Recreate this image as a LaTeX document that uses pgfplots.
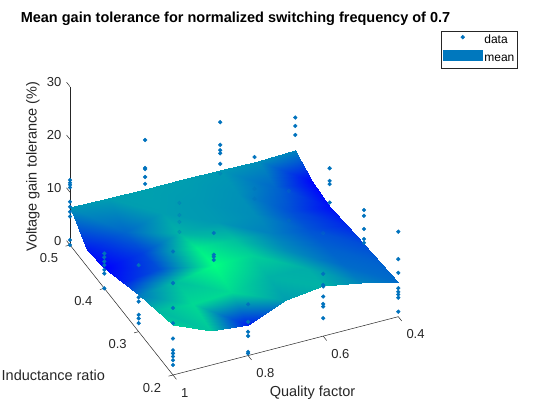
\documentclass[border=0pt]{standalone}
\usepackage{fontspec}
\setmainfont{Liberation Sans}
\usepackage{pgfplots}
\pgfplotsset{compat=1.18}
\definecolor{dotc}{RGB}{0,114,189}
\definecolor{meanc}{RGB}{0,120,190}
\definecolor{axc}{RGB}{38,38,38}

\pgfplotstableread{
Q L Z C
1.0 0.20 9.4 0.80
1.0 0.25 8.2 0.72
1.0 0.30 6.9 0.48
1.0 0.35 5.3 0.12
1.0 0.40 3.8 0.00
1.0 0.45 3.1 0.10
1.0 0.50 7.25 0.58
0.9 0.20 6.5 0.78
0.9 0.25 7.5 0.85
0.9 0.30 7.5 0.75
0.9 0.35 6.0 0.32
0.9 0.40 4.8 0.25
0.9 0.45 4.8 0.40
0.9 0.50 7.1 0.62
0.8 0.20 5.8 0.12
0.8 0.25 8.0 0.85
0.8 0.30 9.0 1.00
0.8 0.35 8.0 0.92
0.8 0.40 6.8 0.70
0.8 0.45 6.5 0.62
0.8 0.50 7.0 0.63
0.7 0.20 8.7 0.62
0.7 0.25 9.0 0.70
0.7 0.30 9.0 0.82
0.7 0.35 8.0 0.75
0.7 0.40 7.0 0.60
0.7 0.45 6.8 0.60
0.7 0.50 6.9 0.62
0.6 0.20 9.5 0.70
0.6 0.25 8.8 0.68
0.6 0.30 8.0 0.55
0.6 0.35 7.2 0.50
0.6 0.40 6.6 0.55
0.6 0.45 6.6 0.57
0.6 0.50 6.8 0.60
0.5 0.20 8.2 0.52
0.5 0.25 7.5 0.42
0.5 0.30 6.8 0.38
0.5 0.35 6.0 0.33
0.5 0.40 5.5 0.30
0.5 0.45 5.8 0.40
0.5 0.50 6.8 0.56
0.4 0.20 6.5 0.42
0.4 0.25 6.0 0.38
0.4 0.30 5.5 0.30
0.4 0.35 5.0 0.16
0.4 0.40 4.4 0.06
0.4 0.45 5.2 0.02
0.4 0.50 6.9 0.52
}\meansurf

\pgfplotstableread{
Q L Z
1.0 0.5 6.3
1.0 0.5 5.4
1.0 0.5 0.95
1.0 0.5 0.0
1.0 0.4 3.5
1.0 0.4 2.8
1.0 0.4 0.0
1.0 0.3 6.5
1.0 0.3 5.7
1.0 0.3 3.2
1.0 0.3 2.5
1.0 0.3 1.6
1.0 0.2 6.9
1.0 0.2 4.7
1.0 0.2 4.1
1.0 0.2 3.5
1.0 0.2 2.8
1.0 0.2 1.9
0.8 0.2 4.5
0.8 0.2 3.7
0.8 0.2 0.7
0.8 0.2 0.4
0.6 0.2 9.4
0.6 0.2 7.5
0.6 0.2 6.1
0.6 0.2 5.6
0.6 0.2 3.4
0.4 0.2 5.4
0.4 0.2 4.7
0.4 0.2 4.2
0.4 0.2 3.6
0.4 0.2 0.95
}\dataunder

\pgfplotstableread{
Q L Z
1.0 0.5 12.3
1.0 0.5 11.8
1.0 0.5 11.4
1.0 0.5 10.9
1.0 0.5 8.2
1.0 0.5 7.25
1.0 0.4 6.6
1.0 0.4 5.9
1.0 0.4 5.1
1.0 0.4 4.4
1.0 0.3 12.6
1.0 0.2 23.4
1.0 0.2 17.4
1.0 0.2 12.7
1.0 0.2 9.8
0.8 0.5 16.2
0.8 0.5 10.9
0.8 0.5 10.7
0.8 0.5 9.2
0.8 0.5 7.9
0.8 0.3 15.0
0.8 0.3 10.9
0.8 0.3 10.5
0.8 0.3 9.9
0.8 0.2 9.7
0.8 0.2 6.4
0.6 0.5 15.9
0.6 0.5 11.6
0.6 0.5 10.6
0.6 0.5 10.0
0.6 0.5 8.0
0.6 0.4 17.5
0.6 0.2 11.8
0.6 0.2 9.7
0.4 0.5 13.1
0.4 0.5 11.5
0.4 0.5 9.8
0.4 0.4 11.7
0.4 0.4 9.3
0.4 0.4 8.7
0.4 0.4 5.2
0.4 0.3 12.0
0.4 0.3 10.9
0.4 0.3 8.4
0.4 0.3 6.5
0.4 0.3 5.8
0.4 0.2 16.1
0.4 0.2 10.9
0.4 0.2 8.3
}\dataover

\pgfplotstableread{
Q L Z
0.8 0.4 12.5
0.8 0.4 10.2
0.8 0.4 8.9
0.8 0.4 7.0
0.6 0.5 6.2
0.6 0.4 11.5
0.6 0.4 9.6
0.6 0.3 19.3
0.6 0.3 13.7
0.6 0.2 19.5
}\datafaint

\begin{document}
\begin{tikzpicture}
\begin{axis}[
  x={(-375.5bp,-97.2bp)}, y={(-343.3bp,433.3bp)}, z={(0bp,5.28bp)},
  xmin=0.4, xmax=1, ymin=0.2, ymax=0.5, zmin=0, zmax=30,
  hide axis, clip=false,
  colormap={winter}{rgb255(0cm)=(0,0,255); rgb255(1cm)=(0,255,128)},
  point meta min=0, point meta max=1,
  legend cell align=left,
  legend style={at={(axis cs:0.082,0.2,48.26)}, anchor=north east,
    draw=axc, line width=0.5bp, fill=white,
    font=\fontsize{12bp}{14bp}\selectfont,
    inner xsep=1.5bp, inner ysep=0.5bp, row sep=0pt,
    nodes={inner xsep=1.6bp, inner ysep=3bp, text height=8.8bp, text depth=3.2bp}},
]
\addplot3[only marks, mark=*, mark size=1.9bp, color=dotc, forget plot] table[x=Q,y=L,z=Z]{\dataunder};
\addplot3[surf, shader=interp, z buffer=sort, mesh/rows=7, mesh/cols=7,
  point meta=explicit, forget plot] table[x=Q,y=L,z=Z,meta=C]{\meansurf};
\addplot3[only marks, mark=*, mark size=1.9bp, color=dotc, forget plot] table[x=Q,y=L,z=Z]{\dataover};
\addplot3[only marks, mark=*, mark size=1.9bp, color=dotc, opacity=0.3, forget plot] table[x=Q,y=L,z=Z]{\datafaint};

\addlegendimage{legend image code/.code={\fill[dotc] (20bp,3.5bp) circle (1.9bp); \path[draw=none] (0bp,0bp) -- (40bp,0bp);}}
\addlegendentry{data}
\addlegendimage{legend image code/.code={\fill[meanc,draw=none] (0bp,-2bp) rectangle (40bp,9bp);}}
\addlegendentry{mean}

% axis lines
\draw[axc, line width=0.5bp] (axis cs:1,0.2,0) -- (axis cs:0.4,0.2,0);
\draw[axc, line width=0.5bp] (axis cs:1,0.2,0) -- (axis cs:1,0.5,0);
\draw[axc, line width=0.5bp] (axis cs:1,0.5,0) -- (axis cs:1,0.5,30);
% Q ticks
\draw[axc, line width=0.5bp] (axis cs:1,0.2,0) -- (axis cs:1,0.19,0);
\draw[axc, line width=0.5bp] (axis cs:0.8,0.2,0) -- (axis cs:0.8,0.19,0);
\draw[axc, line width=0.5bp] (axis cs:0.6,0.2,0) -- (axis cs:0.6,0.19,0);
\draw[axc, line width=0.5bp] (axis cs:0.4,0.2,0) -- (axis cs:0.4,0.19,0);
% L ticks
\draw[axc, line width=0.5bp] (axis cs:1,0.2,0) -- (axis cs:1.012,0.2,0);
\draw[axc, line width=0.5bp] (axis cs:1,0.3,0) -- (axis cs:1.012,0.3,0);
\draw[axc, line width=0.5bp] (axis cs:1,0.4,0) -- (axis cs:1.012,0.4,0);
\draw[axc, line width=0.5bp] (axis cs:1,0.5,0) -- (axis cs:1.012,0.5,0);
% z ticks
\draw[axc, line width=0.5bp] (axis cs:1,0.5,0) -- (axis cs:1,0.51,0);
\draw[axc, line width=0.5bp] (axis cs:1,0.5,10) -- (axis cs:1,0.51,10);
\draw[axc, line width=0.5bp] (axis cs:1,0.5,20) -- (axis cs:1,0.51,20);
\draw[axc, line width=0.5bp] (axis cs:1,0.5,30) -- (axis cs:1,0.51,30);

\coordinate (O) at (axis cs:1,0.2,0);
\coordinate (q8) at (axis cs:0.8,0.2,0);
\coordinate (q6) at (axis cs:0.6,0.2,0);
\coordinate (q4) at (axis cs:0.4,0.2,0);
\coordinate (l3) at (axis cs:1,0.3,0);
\coordinate (l4) at (axis cs:1,0.4,0);
\coordinate (l5) at (axis cs:1,0.5,0);
\coordinate (z1) at (axis cs:1,0.5,10);
\coordinate (z2) at (axis cs:1,0.5,20);
\coordinate (z3) at (axis cs:1,0.5,30);
\end{axis}

% tick labels
\tikzset{tl/.style={text=axc, inner sep=0pt, font=\fontsize{13bp}{15bp}\selectfont}}
\node[tl, anchor=base west] at ([xshift=8bp, yshift=-22bp]O) {1};
\node[tl, anchor=base west] at ([xshift=8bp, yshift=-22bp]q8) {0.8};
\node[tl, anchor=base west] at ([xshift=8bp, yshift=-22bp]q6) {0.6};
\node[tl, anchor=base west] at ([xshift=8bp, yshift=-22bp]q4) {0.4};
\node[tl, anchor=base east] at ([xshift=-11.8bp, yshift=-17bp]O) {0.2};
\node[tl, anchor=base east] at ([xshift=-11.8bp, yshift=-17bp]l3) {0.3};
\node[tl, anchor=base east] at ([xshift=-11.8bp, yshift=-17bp]l4) {0.4};
\node[tl, anchor=base east] at ([xshift=-11.8bp, yshift=-17bp]l5) {0.5};
\node[tl, anchor=base east] at ([xshift=-8.5bp]l5) {0};
\node[tl, anchor=base east] at ([xshift=-8.5bp]z1) {10};
\node[tl, anchor=base east] at ([xshift=-8.5bp]z2) {20};
\node[tl, anchor=base east] at ([xshift=-8.5bp]z3) {30};

% axis labels and title
\tikzset{al/.style={text=axc, inner sep=0pt, font=\fontsize{14.5bp}{17bp}\selectfont}}
\node[al, anchor=base] at ([xshift=139.5bp, yshift=-21.7bp]O) {Quality factor};
\node[al, anchor=base] at ([xshift=-119.7bp, yshift=-5bp]O) {Inductance ratio};
\node[al, anchor=base, rotate=90] at ([xshift=-136.5bp, yshift=208.3bp]O) {Voltage gain tolerance (\%)};
\node[anchor=base, inner sep=0pt, font=\bfseries\fontsize{14.5bp}{17bp}\selectfont] at ([xshift=62.5bp, yshift=352.3bp]O) {Mean gain tolerance for normalized switching frequency of 0.7};

\pgfresetboundingbox
\path[use as bounding box] ([xshift=-173bp,yshift=-45bp]O) rectangle ([xshift=387bp,yshift=375bp]O);
\end{tikzpicture}
\end{document}
